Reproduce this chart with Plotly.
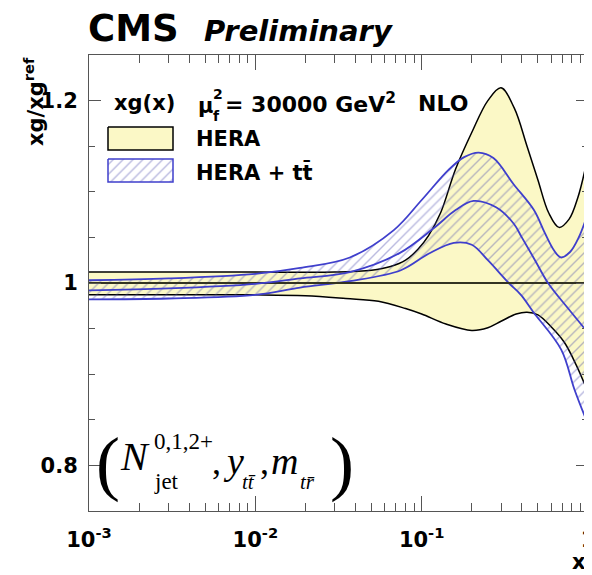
import plotly.graph_objects as go

# ---------------- data ----------------
hera_up_x = [0.001, 0.003, 0.01, 0.03, 0.05, 0.065, 0.08, 0.095, 0.11, 0.13, 0.16, 0.2,
             0.25, 0.3, 0.36, 0.43, 0.5, 0.58, 0.67, 0.77, 0.87, 0.975]
hera_up = [1.012, 1.012, 1.012, 1.012, 1.014, 1.018, 1.025, 1.037, 1.052, 1.077, 1.125, 1.165,
           1.200, 1.214, 1.192, 1.150, 1.113, 1.077, 1.061, 1.070, 1.094, 1.130]

hera_lo_x = [0.001, 0.01, 0.02, 0.035, 0.055, 0.08, 0.1, 0.14, 0.2, 0.25, 0.3, 0.37, 0.43,
             0.5, 0.6, 0.72, 0.85, 0.975]
hera_lo = [0.987, 0.987, 0.986, 0.983, 0.980, 0.972, 0.966, 0.955, 0.948, 0.951, 0.958, 0.966,
           0.968, 0.965, 0.952, 0.935, 0.910, 0.885]

hera_c_x = [0.001, 1.0]
hera_c = [1.0, 1.0]

tt_up_x = [0.001, 0.003, 0.01, 0.0186, 0.037, 0.068, 0.1, 0.145, 0.18, 0.22, 0.27, 0.358,
           0.473, 0.55, 0.624, 0.687, 0.78, 0.88, 0.975]
tt_up = [1.003, 1.005, 1.010, 1.0165, 1.028, 1.058, 1.091, 1.124, 1.138, 1.143, 1.137, 1.108,
         1.080, 1.055, 1.036, 1.028, 1.034, 1.050, 1.071]

tt_c_x = [0.001, 0.003, 0.01, 0.0186, 0.037, 0.074, 0.118, 0.16, 0.205, 0.28, 0.358, 0.40,
          0.48, 0.575, 0.76, 0.975]
tt_c = [0.992, 0.994, 0.999, 1.005, 1.012, 1.033, 1.060, 1.080, 1.090, 1.083, 1.065, 1.050,
        1.025, 1.000, 0.972, 0.948]

tt_lo_x = [0.001, 0.003, 0.01, 0.0186, 0.037, 0.075, 0.11, 0.156, 0.2, 0.25, 0.334, 0.395,
           0.47, 0.69, 0.83, 0.975]
tt_lo = [0.982, 0.983, 0.987, 0.995, 1.002, 1.014, 1.032, 1.044, 1.042, 1.025, 1.000, 0.987,
         0.968, 0.927, 0.883, 0.850]

x_tickvals = [0.001, 0.01, 0.1, 1]
x_ticktext = ["10<sup>-3</sup>", "10<sup>-2</sup>", "10<sup>-1</sup>", "1"]
y_tickvals = [0.8, 1.0, 1.2]
y_ticktext = ["0.8", "1", "1.2"]

# ---------------- styling ----------------
OFF = 8  # the page places the figure 8 px from the window's top-left corner
W, H = 592 - OFF, 575 - OFF
# plot frame in window pixels
L, R, T, B = 89, 588, 55, 511
YELLOW = "#fbf8c6"
BLUE = "#3f3fcc"
HATCH = "rgba(80,80,175,0.8)"
FRAME = "#555555"
SANS = "DejaVu Sans"
SERIF = "Liberation Serif"


def px(x):
    return (x - L) / (R - L)


def py(y):
    return (B - y) / (B - T)


fig = go.Figure()

spl = dict(shape="spline", smoothing=1.0)
pattern = dict(shape="/", fgcolor=HATCH, bgcolor="rgba(0,0,0,0)", size=7, solidity=0.2)

# HERA band (yellow)
fig.add_trace(go.Scatter(x=hera_lo_x, y=hera_lo, mode="lines",
                         line=dict(color="black", width=1.5, **spl), showlegend=False))
fig.add_trace(go.Scatter(x=hera_up_x, y=hera_up, mode="lines", fill="tonexty",
                         fillcolor=YELLOW, line=dict(color="black", width=1.5, **spl),
                         showlegend=False))
# HERA + ttbar band (hatched)
fig.add_trace(go.Scatter(x=tt_lo_x, y=tt_lo, mode="lines",
                         line=dict(color=BLUE, width=1.8, **spl), showlegend=False))
fig.add_trace(go.Scatter(x=tt_up_x, y=tt_up, mode="lines", fill="tonexty",
                         fillcolor="rgba(0,0,0,0)", fillpattern=pattern,
                         line=dict(color=BLUE, width=1.8, **spl), showlegend=False))
# central lines
fig.add_trace(go.Scatter(x=hera_c_x, y=hera_c, mode="lines",
                         line=dict(color="#333322", width=1.8), showlegend=False))
fig.add_trace(go.Scatter(x=tt_c_x, y=tt_c, mode="lines",
                         line=dict(color=BLUE, width=1.8, **spl), showlegend=False))

# legend boxes (overlay axes in window pixels)
fig.add_trace(go.Scatter(x=[108, 173, 173, 108, 108], y=[127, 127, 150, 150, 127],
                         xaxis="x2", yaxis="y2", mode="lines", fill="toself",
                         fillcolor=YELLOW, line=dict(color="black", width=1.5),
                         showlegend=False, hoverinfo="skip"))
fig.add_trace(go.Scatter(x=[108, 173, 173, 108, 108], y=[159, 159, 182, 182, 159],
                         xaxis="x2", yaxis="y2", mode="lines", fill="toself",
                         fillcolor="rgba(0,0,0,0)", fillpattern=pattern,
                         line=dict(color=BLUE, width=1.5),
                         showlegend=False, hoverinfo="skip"))

minor_x = [k * 10.0 ** e for e in (-3, -2, -1) for k in range(2, 10)]

fig.update_layout(
    width=W, height=H,
    margin=dict(l=L - OFF, r=592 - R, t=T - OFF, b=575 - B, pad=0, autoexpand=False),
    paper_bgcolor="white", plot_bgcolor="white",
    showlegend=False,
    xaxis=dict(type="log", range=[-3, 0], showgrid=False, zeroline=False, automargin=False,
               showline=True, linecolor=FRAME, linewidth=1, mirror="ticks",
               ticks="inside", ticklen=15, tickwidth=1, tickcolor=FRAME,
               tickmode="array", tickvals=x_tickvals,
               ticktext=["<b>" + t + "</b>" for t in x_ticktext],
               tickfont=dict(family=SANS, size=21, color="black"),
               ticklabelstandoff=10, ticklabeloverflow="allow",
               minor=dict(ticks="inside", ticklen=8, tickwidth=1, tickcolor=FRAME,
                          tickmode="array", tickvals=minor_x, showgrid=False)),
    yaxis=dict(range=[0.75, 1.25], showgrid=False, zeroline=False, automargin=False,
               showline=True, linecolor=FRAME, linewidth=1, mirror="ticks",
               ticks="inside", ticklen=12, tickwidth=1, tickcolor=FRAME,
               tickmode="array", tickvals=y_tickvals,
               ticktext=["<b>" + t + "</b>" for t in y_ticktext],
               tickfont=dict(family=SANS, size=21, color="black"),
               ticklabelstandoff=6, ticklabeloverflow="allow",
               minor=dict(ticks="inside", ticklen=6, tickwidth=1, tickcolor=FRAME,
                          dtick=0.05, showgrid=False)),
    xaxis2=dict(overlaying="x", range=[L, R], visible=False, anchor="y2", automargin=False),
    yaxis2=dict(overlaying="y", range=[B, T], visible=False, anchor="x2", automargin=False),
)

ann = []


def add_text(text, x, y, size, family=SANS, xanchor="left", yanchor="middle", angle=0):
    ann.append(dict(text=text, x=px(x), y=py(y), xref="paper", yref="paper",
                    showarrow=False, xanchor=xanchor, yanchor=yanchor, textangle=angle,
                    font=dict(family=family, size=size, color="black")))


# header
add_text("<b>CMS</b>", 86, 29, 37)
add_text("<b><i>Preliminary</i></b>", 202, 31, 29)
# axis titles
add_text("<b>xg/xg<sup>ref</sup></b>", 34, 102, 21, xanchor="center", angle=-90)
add_text("<b>x</b>", 579, 562, 21, xanchor="center")
# legend header
add_text("<b>xg(x)</b>", 112, 103, 21)
add_text("<b>μ</b>", 196, 106, 21)
add_text("<b>2</b>", 211, 94, 14)
add_text("<b>f</b>", 211, 116, 14)
add_text("<b>= 30000 GeV<sup>2</sup></b>", 223, 103, 22)
add_text("<b>NLO</b>", 416, 103, 22)
# legend entries
add_text("<b>HERA</b>", 194, 139, 21)
add_text("<b>HERA + tt\u0304</b>", 194, 172, 21)
# formula at bottom-left
add_text("(", 108, 463, 72, family=SERIF, xanchor="center")
add_text("<i>N</i>", 135, 456, 40, family=SERIF, xanchor="center")
add_text("0,1,2+", 152, 441, 23, family=SERIF)
add_text("jet", 152, 481, 23, family=SERIF)
add_text(",", 210, 462, 36, family=SERIF)
add_text("<i>y</i>", 221, 461, 38, family=SERIF)
add_text("<i>tt\u0304</i>", 240, 482, 21, family=SERIF)
add_text(",", 258, 462, 36, family=SERIF)
add_text("<i>m</i>", 269, 461, 38, family=SERIF)
add_text("<i>tr\u0304</i>", 298, 482, 21, family=SERIF)
add_text(")", 342, 463, 72, family=SERIF, xanchor="center")

fig.update_layout(annotations=ann)

fig.write_html("out.html")
